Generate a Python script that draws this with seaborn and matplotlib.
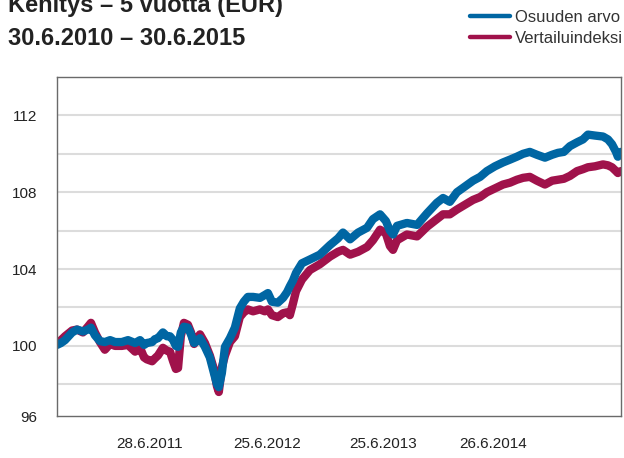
import pandas as pd
import matplotlib.pyplot as plt
import seaborn as sns
from matplotlib.lines import Line2D

# Values (days after 30.6.2010)
days = [0, 13, 26, 49, 65, 84, 100, 110, 123, 139, 155, 172, 188, 210, 230, 253, 269,
        282, 291, 308, 317, 327, 343, 356, 366, 376, 385, 392, 401, 411, 424, 434, 444,
        453, 463, 479, 495, 508, 518, 524, 534, 544, 560, 576, 592, 605, 618, 635, 657,
        673, 683, 696, 715, 732, 745, 754, 764, 774, 793, 819, 851, 884, 910, 926, 949,
        975, 1004, 1023, 1046, 1065, 1078, 1088, 1101, 1133, 1166, 1198, 1230, 1250,
        1272, 1295, 1321, 1347, 1370, 1392, 1418, 1444, 1467, 1489, 1509, 1531, 1554,
        1580, 1603, 1622, 1641, 1661, 1684, 1703, 1719, 1742, 1768, 1784, 1797, 1810,
        1816, 1826]

osuuden_arvo = [100.05, 100.15, 100.3, 100.7, 100.85, 100.75, 100.85, 100.95, 100.55,
                100.25, 100.2, 100.3, 100.2, 100.2, 100.3, 100.15, 100.3, 100.05, 100.15,
                100.2, 100.35, 100.4, 100.7, 100.5, 100.5, 100.3, 100.0, 99.95, 100.7,
                101.0, 100.95, 100.6, 100.15, 100.25, 100.4, 99.95, 99.4, 98.6, 98.0,
                97.85, 98.6, 99.95, 100.4, 100.95, 101.95, 102.3, 102.55, 102.55, 102.5,
                102.65, 102.75, 102.3, 102.25, 102.5, 102.8, 103.1, 103.4, 103.8, 104.3,
                104.5, 104.75, 105.25, 105.6, 105.9, 105.55, 105.9, 106.15, 106.6, 106.85,
                106.5, 106.0, 105.8, 106.25, 106.4, 106.3, 106.9, 107.45, 107.7, 107.5,
                108.0, 108.3, 108.6, 108.8, 109.1, 109.35, 109.55, 109.7, 109.85, 110.0,
                110.1, 109.95, 109.8, 109.95, 110.05, 110.1, 110.4, 110.6, 110.75, 111.0,
                110.95, 110.9, 110.75, 110.5, 110.1, 109.85, 110.1]

vertailuindeksi = [100.1, 100.3, 100.5, 100.8, 100.85, 100.7, 101.0, 101.2, 100.7, 100.2,
                   99.8, 100.1, 100.0, 100.0, 100.05, 99.7, 99.9, 99.4, 99.3, 99.2, 99.35,
                   99.5, 99.9, 99.75, 99.7, 99.2, 98.8, 98.85, 100.5, 101.2, 101.1, 100.7,
                   100.1, 100.35, 100.6, 100.15, 99.5, 98.8, 97.9, 97.6, 98.9, 99.5, 100.2,
                   100.5, 101.5, 101.75, 101.9, 101.8, 101.9, 101.8, 101.9, 101.6, 101.5,
                   101.7, 101.75, 101.6, 102.2, 102.85, 103.45, 103.95, 104.25, 104.65,
                   104.9, 105.0, 104.75, 104.9, 105.15, 105.5, 106.05, 105.85, 105.2, 105.0,
                   105.5, 105.8, 105.7, 106.2, 106.6, 106.85, 106.85, 107.1, 107.35, 107.6,
                   107.75, 108.0, 108.2, 108.4, 108.5, 108.65, 108.75, 108.8, 108.6, 108.4,
                   108.6, 108.65, 108.7, 108.85, 109.1, 109.2, 109.3, 109.35, 109.45, 109.4,
                   109.3, 109.1, 109.0, 109.1]

tick_dates = ['2011-04-27', '2012-05-10', '2013-05-21', '2014-05-12']
tick_labels = ['28.6.2011', '25.6.2012', '25.6.2013', '26.6.2014']
y_ticks = [96.35, 100, 104, 108, 112]
y_labels = ['96', '100', '104', '108', '112']
grid_levels = [98, 100, 102, 104, 106, 108, 110, 112]

start = pd.Timestamp('2010-06-30')
dates = start + pd.to_timedelta(days, unit='D')
df = pd.concat([
    pd.DataFrame({'Päivä': dates, 'Arvo': vertailuindeksi, 'Sarja': 'Vertailuindeksi'}),
    pd.DataFrame({'Päivä': dates, 'Arvo': osuuden_arvo, 'Sarja': 'Osuuden arvo'}),
])

colors = {'Osuuden arvo': '#0066a3', 'Vertailuindeksi': '#a0124b'}

sns.set_style('white')
plt.rcParams['font.family'] = ['Liberation Sans', 'DejaVu Sans']

fig = plt.figure(figsize=(6.24, 4.58), dpi=100)
ax = fig.add_axes([0.0913, 0.0917, 0.9038, 0.7402])

for y in grid_levels:
    ax.axhline(y, color='#dcdcdc', linewidth=1.5, zorder=0)

sns.lineplot(data=df, x='Päivä', y='Arvo', hue='Sarja', palette=colors,
             hue_order=['Vertailuindeksi', 'Osuuden arvo'], linewidth=6,
             solid_capstyle='round', solid_joinstyle='round', ax=ax, legend=False)

ax.set_xlim(start, pd.Timestamp('2015-06-30'))
ax.set_ylim(96.35, 114.0)
ax.set_xticks(pd.to_datetime(tick_dates))
ax.set_xticklabels(tick_labels)
ax.set_yticks(y_ticks)
ax.set_yticklabels(y_labels)
ax.tick_params(axis='x', length=0, pad=15, labelsize=11, colors='#222222')
ax.tick_params(axis='y', length=0, pad=14, labelsize=11, colors='#222222')
ax.set_xlabel('')
ax.set_ylabel('')
for s in ax.spines.values():
    s.set_visible(True)
    s.set_color('#6a6a6a')
    s.set_linewidth(1.0)

fig.text(0.013, 1 - 12 / 458, 'Kehitys – 5 vuotta (EUR)', fontsize=17,
         fontweight='bold', color='#222222', va='baseline')
fig.text(0.013, 1 - 45 / 458, '30.6.2010 – 30.6.2015', fontsize=17,
         fontweight='bold', color='#222222', va='baseline')

handles = [Line2D([], [], color=colors['Osuuden arvo'], linewidth=3.2),
           Line2D([], [], color=colors['Vertailuindeksi'], linewidth=3.2)]
fig.legend(handles, ['Osuuden arvo', 'Vertailuindeksi'], loc='upper right',
           bbox_to_anchor=(1.022, 1.012), frameon=False, fontsize=12,
           handlelength=2.4, handletextpad=0.3, labelspacing=0.4,
           labelcolor='#333333')

fig.savefig('out.png', dpi=100)
